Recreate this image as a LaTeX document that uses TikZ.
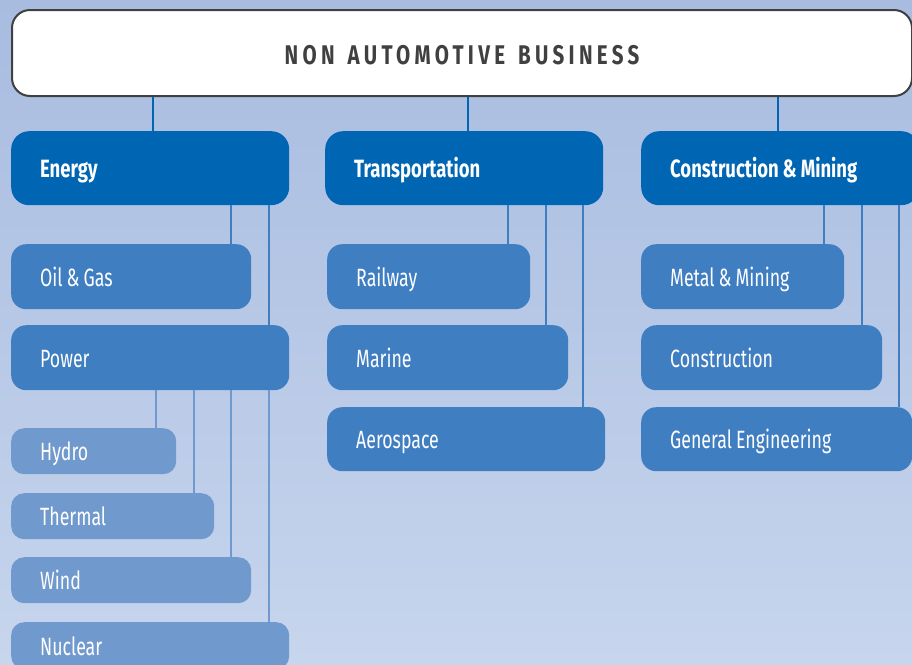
\documentclass[tikz,border=0pt]{standalone}
\usepackage{fontspec}
\setmainfont{Fira Sans}[FakeStretch=0.71]
\newfontfamily\headfamily{Fira Sans}[FakeStretch=0.74]
\newfontfamily\titlefamily{Fira Sans}[FakeStretch=0.76, LetterSpace=16]
\definecolor{darkblue}{HTML}{0066B3}
\definecolor{midblue}{HTML}{407EC2}
\definecolor{lightblue}{HTML}{7099CE}
\definecolor{framegray}{HTML}{404040}
\definecolor{bgtop}{HTML}{A8BCE0}
\definecolor{bgbottom}{HTML}{C7D5ED}
\newcommand\boxfont{\fontsize{25}{28}\selectfont\spaceskip=4pt plus 1pt\relax}
\newcommand\headfont{\headfamily\bfseries\fontsize{25}{28}\selectfont\spaceskip=4pt plus 1pt\relax}
\newcommand\titlefont{\titlefamily\bfseries\fontsize{27}{30}\selectfont\spaceskip=13pt\relax}

\begin{document}
\begin{tikzpicture}[x=1pt, y=-1pt,
    box/.style ={anchor=north west, inner xsep=29pt, inner ysep=0pt, align=flush left,
                 text height=19pt, text depth=0pt, text=white, font=\boxfont},
    title/.style ={anchor=north west, draw=framegray, line width=2pt, fill=white,
                 rounded corners=18pt, minimum width=900pt, minimum height=86pt,
                 text height=23pt, text depth=0pt, text=framegray, font=\titlefont},
    head/.style ={box, fill=darkblue, rounded corners=18pt, minimum height=74pt,
                 text width=#1, font=\headfont},
    sub/.style  ={box, fill=midblue, rounded corners=15pt, minimum height=65pt, text width=#1},
    leaf/.style ={box, fill=lightblue, rounded corners=13pt, minimum height=46pt, text width=#1},
    topline/.style ={draw=darkblue, line width=2pt},
    midline/.style ={draw=midblue, line width=2pt},
    leafline/.style={draw=lightblue, line width=2pt}]
   \fill[top color=bgtop, bottom color=bgbottom] (0,0) rectangle (912,664);
   \useasboundingbox (0,0) rectangle (912,664);

   \node[title] (nab) at (11,9) {NON AUTOMOTIVE BUSINESS};

   % energy
   \node[head=220pt] (energy)  at (11,131) {Energy};
   \node[sub=182pt]  (oil)     at (11,244) {Oil \& Gas};
   \node[sub=220pt]  (power)   at (11,325) {Power};
   \node[leaf=107pt] (hydro)   at (11,428) {Hydro};
   \node[leaf=145pt] (thermal) at (11,493) {Thermal};
   \node[leaf=182pt] (wind)    at (11,557) {Wind};
   \node[leaf=220pt, minimum height=47pt] (nuclear) at (11,622) {Nuclear};

   % transportation
   \node[head=220pt] (transp)  at (325,131) {Transportation};
   \node[sub=145pt]  (rail)    at (327,244) {Railway};
   \node[sub=183pt]  (marine)  at (327,325) {Marine};
   \node[sub=220pt, minimum height=64pt] (aero) at (327,407) {Aerospace};

   % construction & mining
   \node[head=220pt] (constr)  at (641,131) {Construction \& Mining};
   \node[sub=145pt]  (metal)   at (641,244) {Metal \& Mining};
   \node[sub=183pt]  (constn)  at (641,325) {Construction};
   \node[sub=213pt, minimum height=64pt] (general) at (641,407) {General Engineering};

   \draw[topline] ([xshift=3pt]energy.north) -- ([xshift=3pt]nab.south -| energy.north);
   \draw[topline] ([xshift=4pt]transp.north) -- ([xshift=4pt]nab.south -| transp.north);
   \draw[topline] ([xshift=-2pt]constr.north) -- ([xshift=-2pt]nab.south -| constr.north);

   \foreach \p/\c/\o in {energy/oil/20pt, energy/power/20pt, transp/rail/22pt,
        transp/marine/22pt, transp/aero/22pt, constr/metal/20pt,
        constr/constn/20pt, constr/general/13pt}
      \draw[midline] ([xshift=-\o]\c.north east) -- ([xshift=-\o]\c.north east |- \p.south);

   \foreach \c in {hydro, thermal, wind, nuclear}
      \draw[leafline] ([xshift=-20pt]\c.north east) -- ([xshift=-20pt]\c.north east |- power.south);
\end{tikzpicture}
\end{document}
